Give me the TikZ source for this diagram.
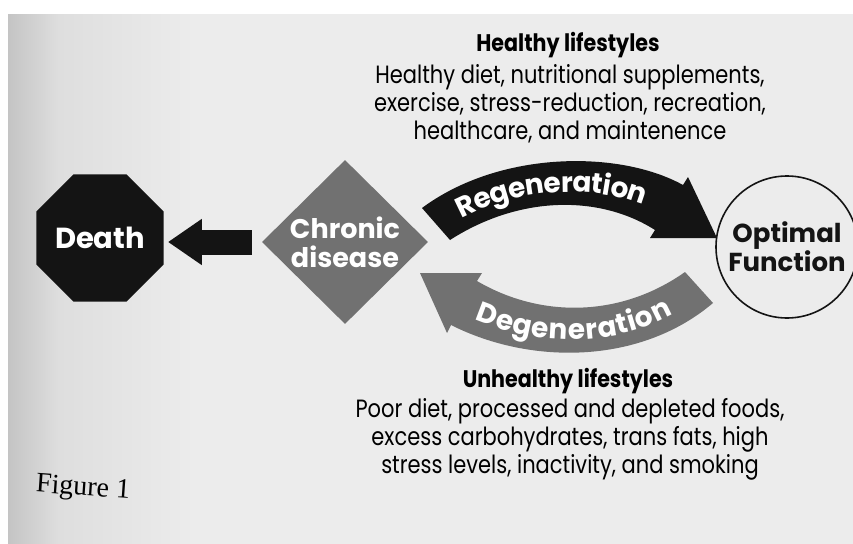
\documentclass[tikz,border=0pt]{standalone}
\usepackage{fontspec}
\setmainfont{Poppins}
\newfontfamily\narrowfont[FakeStretch=0.84]{Poppins}
\newfontfamily\headfont[FakeStretch=0.86]{Poppins}
\newfontfamily\captionfont{Liberation Serif}
\usetikzlibrary{arrows.meta,shapes.geometric,decorations.text}
\definecolor{paper}{HTML}{ECECEC}
\definecolor{paperedge}{HTML}{C4C4C4}
\definecolor{slate}{HTML}{717171}
\definecolor{ink}{HTML}{141414}
\pgfdeclarehorizontalshading{paperfade}{100bp}{color(0bp)=(paperedge); color(25bp)=(paperedge); color(28bp)=(paper!65!paperedge); color(36bp)=(paper); color(100bp)=(paper)}
\tikzset{
  every picture/.style={line join=round, >=Stealth},
  boxtext/.style={font=\bfseries\fontsize{27}{29}\selectfont, align=center, inner sep=0pt},
  headtext/.style={font=\headfont\bfseries\fontsize{24}{24}\selectfont},
  bodytext/.style={font=\narrowfont\fontsize{25}{28}\selectfont, align=center},
  arctext/.style={decorate, decoration={text along path, text={|\bfseries\fontsize{28}{28}\selectfont|#1}, text color=white, text align=center, raise=-10pt}},
}

\begin{document}
\begin{tikzpicture}[x=1pt,y=-1pt]
\useasboundingbox (0,0) rectangle (853,543);
\clip (0,0) rectangle (853,543);
\fill[white] (0,0) rectangle (853,543);
\shade[shading=paperfade] (8,15) rectangle (853,543);
\node[regular polygon, regular polygon sides=8, minimum size=138pt, fill=ink, boxtext, font=\bfseries\fontsize{29}{29}\selectfont, text=white] (death) at (100,238) {Death};
\node[diamond, fill=slate, minimum width=166pt, minimum height=164pt, boxtext, text=white] (chronic) at (345,242) {Chronic\\disease};
\node[circle, draw=ink, line width=1.6pt, minimum size=142pt, boxtext, font=\bfseries\fontsize{26}{27}\selectfont, text=ink] (optimal) at (787,247) {Optimal\\Function};
\draw[ink, line width=25pt, -{Triangle[length=34pt,width=44pt]}, shorten <=10pt, shorten >=4pt] (chronic.west) -- (death.east |- chronic.west);
\fill[ink] (422,208) .. controls (500,150) and (620,150) .. (683,185) -- (688,177) -- (717,238) -- (650,238) -- (655,230) .. controls (600,195) and (520,195) .. (450,240) -- cycle;
\fill[slate] (685,272) .. controls (620,318) and (540,318) .. (477,281) -- (482,273) -- (420,273) -- (447,333) -- (451,325) .. controls (530,365) and (640,365) .. (713,303) -- cycle;
\path[arctext=Regeneration] (434,224) .. controls (510,171) and (612,171) .. (671,208);
\path[arctext=Degeneration] (455,299) .. controls (530,341) and (625,341) .. (690,291);
\node[headtext] (healthy) at (568,45) {Healthy lifestyles};
\node[bodytext] (goodlist) at (570,104) {Healthy diet, nutritional supplements,\\exercise, stress-reduction, recreation,\\healthcare, and maintenence};
\node[headtext] (unhealthy) at (568,381) {Unhealthy lifestyles};
\node[bodytext] (badlist) at (570,439) {Poor diet, processed and depleted foods,\\excess carbohydrates, trans fats, high\\stress levels, inactivity, and smoking};
\node[font=\captionfont\fontsize{28}{28}\selectfont, rotate=-4] (figlabel) at (83,489) {Figure 1};
\end{tikzpicture}
\end{document}
